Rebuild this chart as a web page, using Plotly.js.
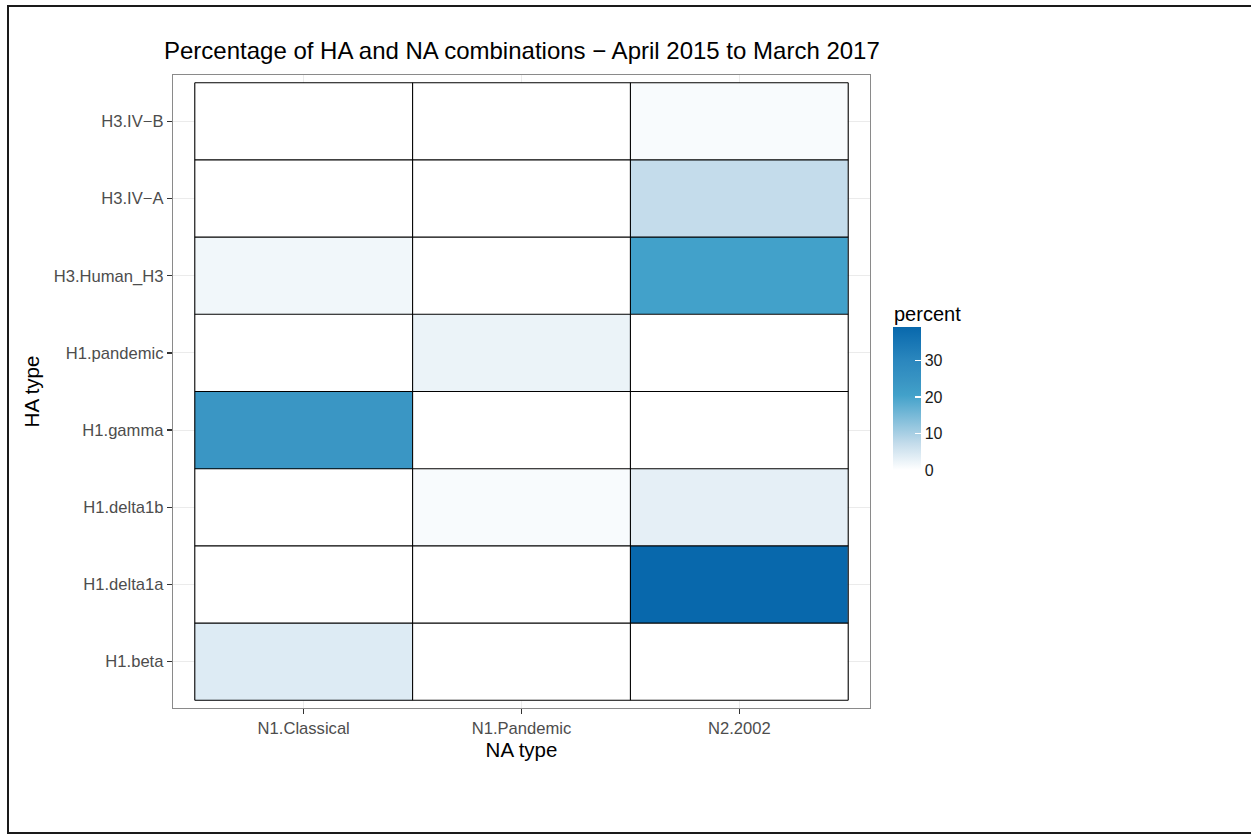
<!DOCTYPE html>
<html>
<head>
<meta charset="utf-8">
<script src="https://cdn.plot.ly/plotly-3.0.1.min.js"></script>
<style>
  html, body { margin: 0; padding: 0; background: #ffffff; overflow: hidden; }
  #chart { width: 1251px; height: 834px; position: absolute; left: 0; top: 0; }
  #frame { position: absolute; left: 7px; top: 5px; width: 1300px; height: 825px;
           border: 2px solid #1a1a1a; border-right: none; pointer-events: none; z-index: 10; }
</style>
</head>
<body>
<div id="chart"></div>
<div id="frame"></div>
<script>
// ---- data ----
const naTypes = ["N1.Classical", "N1.Pandemic", "N2.2002"];
const haTypes = ["H1.beta", "H1.delta1a", "H1.delta1b", "H1.gamma",
                 "H1.pandemic", "H3.Human_H3", "H3.IV\u2212A", "H3.IV\u2212B"];
// percent for each HA type (same order as haTypes), one array per NA type
const pctN1Classical = [4.1, 0,    0,   24,  0,   1.7,  0,   0];
const pctN1Pandemic  = [0,   0,    0.8, 0,   2.4, 0,    0,   0];
const pctN2_2002     = [0,   39.2, 3.2, 0,   0,   20.5, 7.2, 0.8];

const series = [pctN1Classical, pctN1Pandemic, pctN2_2002];
const z = haTypes.map((h, j) => naTypes.map((n, i) => series[i][j]));
const xIdx = naTypes.map((_, i) => i);
const yIdx = haTypes.map((_, j) => j);
const zmax = Math.max(...series.flat());

// cell outlines derived from the category grid
const lx = [], ly = [];
for (let i = 0; i <= naTypes.length; i++) {
  lx.push(i - 0.5, i - 0.5, null);
  ly.push(-0.5, haTypes.length - 0.5, null);
}
for (let j = 0; j <= haTypes.length; j++) {
  lx.push(-0.5, naTypes.length - 0.5, null);
  ly.push(j - 0.5, j - 0.5, null);
}

const font = 'Liberation Sans, Arial, sans-serif';

// plot area in pixels (panel)
const PL = 173, PR = 870, PT = 75, PB = 708;
const PW = PR - PL, PH = PB - PT;

const heat = {
  type: 'heatmap',
  x: xIdx, y: yIdx, z: z,
  zmin: 0, zmax: zmax,
  colorscale: [
    [0, '#FFFFFF'], [0.184, '#C4DCEB'], [0.255, '#A8CFE4'],
    [0.523, '#42A1CA'], [0.612, '#3A96C4'], [0.765, '#2B87BE'], [1, '#0868AC']
  ],
  colorbar: {
    xref: 'paper', yref: 'paper',
    x: (893 - PL) / PW, xanchor: 'left',
    y: (PB - 470) / PH, yanchor: 'bottom',
    len: 143, lenmode: 'pixels',
    thickness: 28, thicknessmode: 'pixels',
    outlinewidth: 0, xpad: 0, ypad: 0,
    ticks: 'inside', ticklen: 6, tickwidth: 1.2, tickcolor: '#ffffff',
    dtick: 10, tick0: 0,
    tickfont: { family: font, size: 16, color: '#1a1a1a' }
  },
  hoverinfo: 'x+y+z'
};

const outlines = {
  type: 'scatter', mode: 'lines', x: lx, y: ly,
  line: { color: '#000000', width: 1.1 },
  hoverinfo: 'skip', showlegend: false, connectgaps: false
};

const layout = {
  width: 1251, height: 834,
  margin: { l: PL, r: 1251 - PR, t: PT, b: 834 - PB, pad: 0 },
  paper_bgcolor: '#ffffff', plot_bgcolor: '#ffffff',
  showlegend: false,
  font: { family: font, color: '#000' },
  title: {
    text: 'Percentage of HA and NA combinations \u2212 April 2015 to March 2017',
    font: { family: font, size: 24, color: '#000' },
    xref: 'container', x: 164 / 1251, xanchor: 'left',
    yref: 'container', y: 1 - 51 / 834, yanchor: 'middle'
  },
  annotations: [{
    text: 'percent', showarrow: false,
    xref: 'paper', yref: 'paper',
    x: (892 - PL) / PW, xanchor: 'left',
    y: (PB - 314) / PH, yanchor: 'middle',
    font: { family: font, size: 20, color: '#000' }
  }],
  xaxis: {
    range: [-0.6, naTypes.length - 0.4],
    tickmode: 'array', tickvals: xIdx, ticktext: naTypes,
    showgrid: true, gridcolor: '#EBEBEB', gridwidth: 1,
    zeroline: false,
    showline: true, mirror: true, linecolor: '#8a8a8a', linewidth: 1.2,
    ticks: 'outside', ticklen: 5, tickwidth: 1.5, tickcolor: '#333333',
    tickfont: { family: font, size: 16.6, color: '#4D4D4D' },
    title: { text: 'NA type', standoff: 3, font: { family: font, size: 20.5, color: '#000' } }
  },
  yaxis: {
    range: [-0.6, haTypes.length - 0.4],
    tickmode: 'array', tickvals: yIdx, ticktext: haTypes,
    showgrid: true, gridcolor: '#EBEBEB', gridwidth: 1,
    zeroline: false,
    showline: true, mirror: true, linecolor: '#8a8a8a', linewidth: 1.2,
    ticks: 'outside', ticklen: 5, tickwidth: 1.5, tickcolor: '#333333',
    tickfont: { family: font, size: 16.6, color: '#4D4D4D' },
    title: { text: 'HA type', standoff: 8, font: { family: font, size: 20.5, color: '#000' } }
  }
};

Plotly.newPlot('chart', [heat, outlines], layout, { displayModeBar: false, staticPlot: true });
</script>
</body>
</html>
